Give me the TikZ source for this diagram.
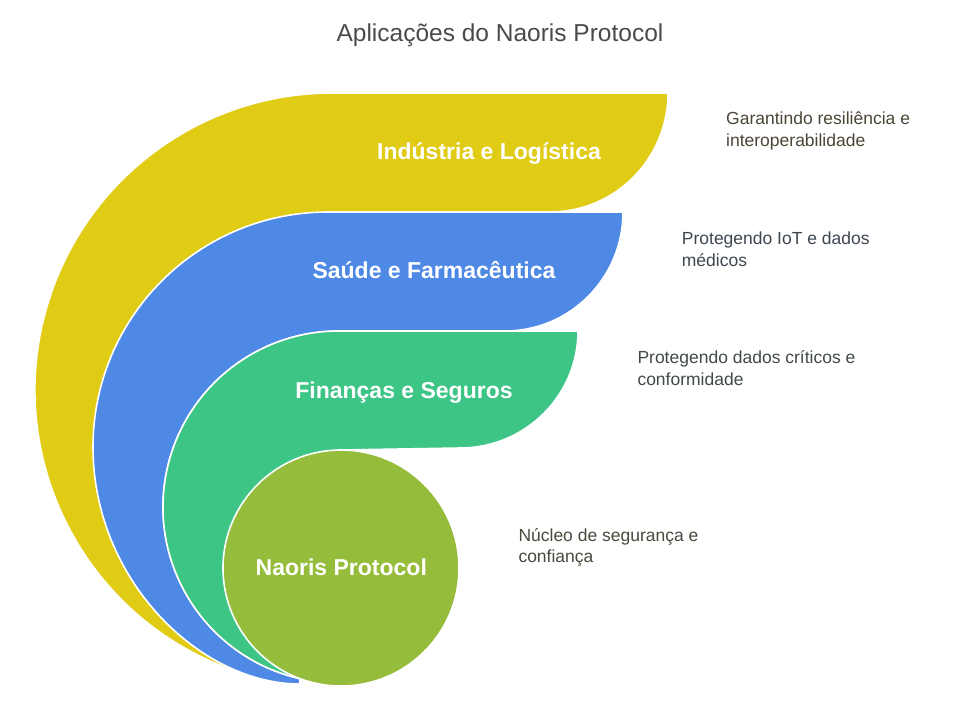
\documentclass[tikz,border=0pt]{standalone}
\usepackage{fontspec}
\setmainfont{Liberation Sans}
\definecolor{cYel}{HTML}{E0CB15}
\definecolor{cBlu}{HTML}{4E89E5}
\definecolor{cGrn}{HTML}{3DC586}
\definecolor{cOli}{HTML}{95BC3B}
\definecolor{cTitle}{HTML}{4A4A4A}
\definecolor{dYel}{HTML}{4A4535}
\definecolor{dBlu}{HTML}{3D4650}
\definecolor{dGrn}{HTML}{414A45}
\definecolor{dOli}{HTML}{474A3C}
\begin{document}
\begin{tikzpicture}[x=1pt,y=-1pt,
  band/.style={draw=white,line width=1.6pt,line join=round},
  inlabel/.style={text=white,inner sep=0pt,anchor=base,font=\fontsize{23}{27}\selectfont\bfseries},
  desc/.style={inner sep=0pt,anchor=base west,font=\fontsize{17.5}{22}\selectfont},
  ttl/.style={inner sep=0pt,anchor=base,text=cTitle,font=\fontsize{24.5}{29}\selectfont}]
\useasboundingbox (0,0) rectangle (966,701);
% yellow band
\path[band,fill=cYel] (240.2,672.5) arc[start angle=108,end angle=270,radius=297]
  -- (668,93) arc[start angle=0,end angle=90,x radius=118,y radius=119]
  -- (330,212) -- cycle;
% blue band
\path[band,fill=cBlu] (300,684) .. controls (200,684) and (93,580) .. (93,447)
  arc[start angle=180,end angle=270,radius=235]
  -- (623,212) arc[start angle=0,end angle=90,x radius=118,y radius=119]
  -- (339,331) arc[start angle=270,end angle=102.8,radius=176] -- cycle;
% green band
\path[band,fill=cGrn] (300.0,678.6) arc[start angle=102.8,end angle=270,radius=176]
  -- (578,331) arc[start angle=0,end angle=90,x radius=118,y radius=117]
  -- (341,450) -- cycle;
% core circle
\node[band,fill=cOli,circle,minimum size=236pt,inner sep=0pt] (core) at (341,568) {};
% labels inside
\node[inlabel] (tY) at (489,159.5) {Indústria e Logística};
\node[inlabel] (tB) at (434,278.3) {Saúde e Farmacêutica};
\node[inlabel] (tG) at (404,398.5) {Finanças e Seguros};
\node[inlabel] (tO) at (341.3,575) {Naoris Protocol};
% title
\node[ttl] (title) at (500,41.5) {Aplicações do Naoris Protocol};
% descriptions
\node[desc,text=dYel] (dY1) at (726,124.3) {Garantindo resiliência e};
\node[desc,text=dYel] (dY2) at (726,146.7) {interoperabilidade};
\node[desc,text=dBlu] (dB1) at (681.7,244.3) {Protegendo IoT e dados};
\node[desc,text=dBlu] (dB2) at (681.7,266.3) {médicos};
\node[desc,text=dGrn] (dG1) at (637.3,363.3) {Protegendo dados críticos e};
\node[desc,text=dGrn] (dG2) at (637.3,385.3) {conformidade};
\node[desc,text=dOli] (dO1) at (518.3,541) {Núcleo de segurança e};
\node[desc,text=dOli] (dO2) at (518.3,562.7) {confiança};
\end{tikzpicture}
\end{document}
